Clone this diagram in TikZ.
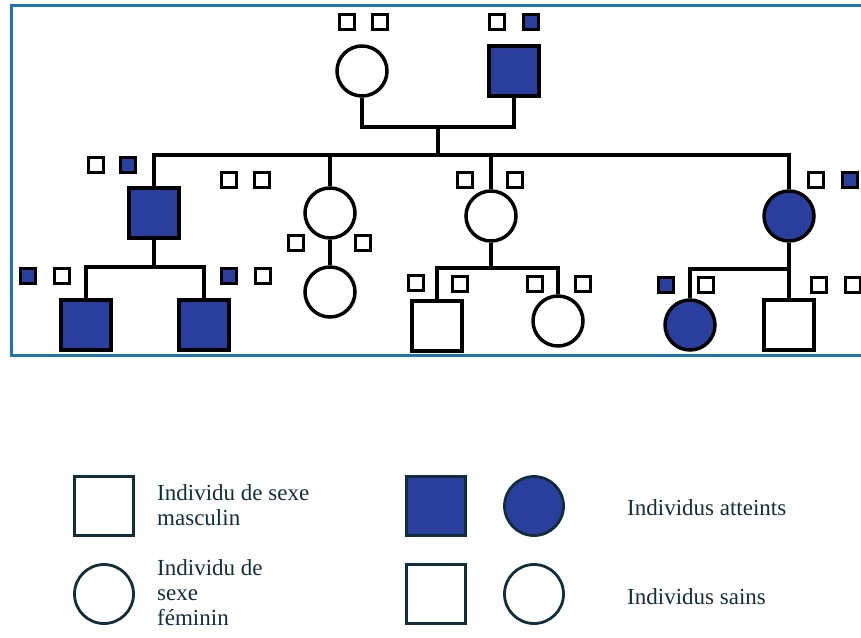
\documentclass[tikz,border=0pt]{standalone}
\usepackage{fontspec}
\setmainfont{Liberation Serif}
\usetikzlibrary{positioning}
\definecolor{sick}{RGB}{42,62,158}
\definecolor{frameblue}{RGB}{28,118,178}
\definecolor{legendink}{RGB}{18,46,60}

\begin{document}
\begin{tikzpicture}[x=1pt, y=-1pt,
    male/.style={rectangle, draw, line width=3.5pt, minimum size=50pt, inner sep=0pt},
    female/.style={circle, draw, line width=3.5pt, minimum size=50pt, inner sep=0pt},
    tag/.style={rectangle, draw, line width=2.8pt, minimum size=15pt, inner sep=0pt},
    ill/.style={fill=sick},
    link/.style={line width=3.5pt},
    key/.style={draw=legendink, line width=2.8pt, minimum size=59pt, inner sep=0pt},
    legtext/.style={text=legendink, align=left, anchor=base west, inner sep=0pt, font=\fontsize{23}{25}\selectfont}
]
\useasboundingbox (0,0) rectangle (861,637);

% Frame
\draw[frameblue, line width=3pt] (862,5) -- (11,5) -- (11,355) -- (862,355);

% Generation I
\node[female] (f1) at (362,71) {};
\node[male, ill] (m1) at (514,71) {};
\node[tag] (f1a) at (347,22) {};
\node[tag] (f1b) at (380,22) {};
\node[tag] (m1a) at (497,22) {};
\node[tag, ill] (m1b) at (531,22) {};

% Generation II
\node[male, ill] (c1) at (154,213) {};
\node[female] (c2) at (330,213) {};
\node[female] (c2k) at (330,292) {};
\node[female] (c3) at (491,216) {};
\node[female, ill] (c4) at (789,216) {};
\node[tag] (c1a) at (96,165) {};
\node[tag, ill] (c1b) at (128,165) {};
\node[tag] (c2a) at (229,180) {};
\node[tag] (c2b) at (262,180) {};
\node[tag] (c2ka) at (296,243) {};
\node[tag] (c2kb) at (363,243) {};
\node[tag] (c3a) at (465,180) {};
\node[tag] (c3b) at (515,180) {};
\node[tag] (c4a) at (816,180) {};
\node[tag, ill] (c4b) at (850,180) {};

% Generation III
\node[male, ill] (g1) at (86,325) {};
\node[male, ill] (g2) at (204,325) {};
\node[male] (g3) at (437,326) {};
\node[female] (g4) at (558,321) {};
\node[female, ill] (g5) at (690,325) {};
\node[male] (g6) at (789,325) {};
\node[tag, ill] (g1a) at (28,276) {};
\node[tag] (g1b) at (62,276) {};
\node[tag, ill] (g2a) at (229,276) {};
\node[tag] (g2b) at (263,276) {};
\node[tag] (g3a) at (416,283) {};
\node[tag] (g3b) at (460,284) {};
\node[tag] (g4a) at (535,284) {};
\node[tag] (g4b) at (583,284) {};
\node[tag, ill] (g5a) at (666,285) {};
\node[tag] (g5b) at (706,285) {};
\node[tag] (g6a) at (819,285) {};
\node[tag] (g6b) at (853,285) {};

% Lines
\coordinate (mar) at (438,127);
\coordinate (sib) at (438,155);
\coordinate (s1) at (154,267);
\coordinate (s3) at (491,268);
\coordinate (s4) at (789,269);
\draw[link] (f1.south) |- (mar) -| (m1.south);
\draw[link] (mar) -- (sib);
\draw[link] (c1.north) |- (sib) -| (c4.north);
\draw[link] (c2.north) -- (c2.north |- sib);
\draw[link] (c3.north) -- (c3.north |- sib);
\draw[link] (c2) -- (c2k);
\draw[link] (c1) -- (s1);
\draw[link] (g1.north) |- (s1) -| (g2.north);
\draw[link] (c3) -- (s3);
\draw[link] (g3.north) |- (s3) -| (g4.north);
\draw[link] (c4) -- (g6);
\draw[link] (g5.north) |- (s4);

% Legend
\node[key, rectangle] (k1) at (104,506) {};
\node[key, circle] (k2) at (104,594) {};
\node[key, rectangle, fill=sick] (k3) at (436,506) {};
\node[key, circle, fill=sick] (k4) at (534,506) {};
\node[key, rectangle] (k5) at (436,594) {};
\node[key, circle] (k6) at (534,594) {};
\node[legtext] (t1) at (157,525) {Individu de sexe\\masculin};
\node[legtext] (t2) at (157,625) {Individu de\\sexe\\féminin};
\node[legtext] (t3) at (627,515) {Individus atteints};
\node[legtext] (t4) at (627,604) {Individus sains};

\end{tikzpicture}
\end{document}
